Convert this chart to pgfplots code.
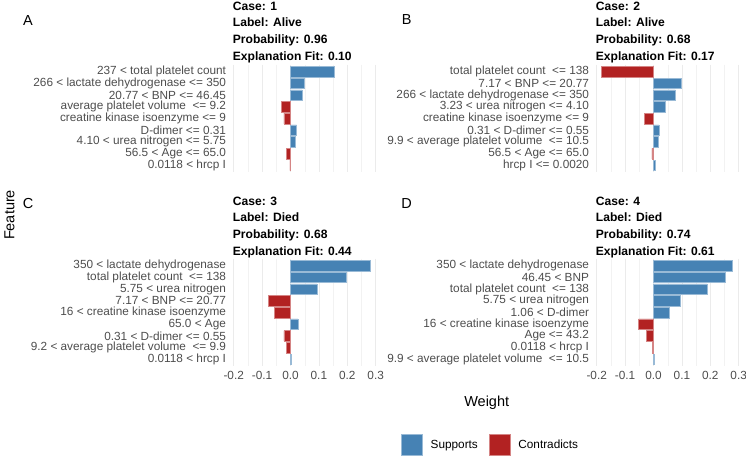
\documentclass[border=0pt]{standalone}
\usepackage{fontspec}
\setmainfont{Liberation Sans}
\usepackage{pgfplots}
\pgfplotsset{compat=1.18}
\definecolor{supp}{RGB}{70,130,180}
\definecolor{contra}{RGB}{178,34,34}
\definecolor{gridc}{RGB}{235,235,235}
\definecolor{gridm}{RGB}{242,242,242}
\definecolor{tickc}{RGB}{77,77,77}
\newcommand\tickfont{\fontsize{11.8bp}{13bp}\selectfont}
\newcommand\titlefont{\fontsize{12.1bp}{14bp}\selectfont\bfseries}
\newcommand\labfont{\fontsize{14.5bp}{16bp}\selectfont}
\pgfplotsset{
  limeaxis/.style={
    scale only axis, width=145.4bp, height=107.6bp,
    xbar, bar width=0.9, bar shift=0pt,
    xmin=-0.207, xmax=0.305,
    ymin=0.4, ymax=9.6, y dir=reverse,
    ytick={1,...,9},
    xtick={-0.2,-0.1,0,0.1,0.2,0.3},
    minor xtick={-0.15,-0.05,0.05,0.15,0.25},
    xmajorgrids, xminorgrids, ymajorgrids=false,
    major grid style={color=gridc, line width=0.6bp},
    minor grid style={color=gridm, line width=0.35bp},
    axis line style={draw=none},
    major tick length=0pt, minor tick length=0pt,
    tick style={draw=none},
    yticklabel style={font=\tickfont, text=tickc, inner sep=0pt, xshift=-5.5bp},
    xticklabel style={font=\tickfont, text=tickc, inner sep=0pt, yshift=-5bp},
    clip=false,
  },
  suppbar/.style={fill=supp, draw=supp!55!white, line width=0.5bp},
  contrabar/.style={fill=contra, draw=contra!55!white, line width=0.5bp},
}
\begin{document}
\begin{tikzpicture}[x=1bp,y=1bp]
\useasboundingbox (0,0) rectangle (746,456);
% Panel A
\begin{axis}[limeaxis, at={(231.7bp,283.7bp)}, anchor=south west,
  xticklabels=\empty,
  yticklabels={{237 < total platelet count\ },{266 < lactate dehydrogenase <= 350},{20.77 < BNP <= 46.45},{average platelet volume\ \ <= 9.2},{creatine kinase isoenzyme <= 9},{D-dimer <= 0.31},{4.10 < urea nitrogen <= 5.75},{56.5 < Age <= 65.0},{0.0118 < hrcp I}}]
\addplot[suppbar] coordinates {(0.154,1) (0.050,2) (0.041,3) (0.022,6) (0.016,7)};
\addplot[contrabar] coordinates {(-0.033,4) (-0.023,5) (-0.015,8) (-0.002,9)};
\end{axis}
% Panel B
\begin{axis}[limeaxis, at={(594.7bp,283.7bp)}, anchor=south west,
  xticklabels=\empty,
  yticklabels={{total platelet count\ \ <= 138},{7.17 < BNP <= 20.77},{266 < lactate dehydrogenase <= 350},{3.23 < urea nitrogen <= 4.10},{creatine kinase isoenzyme <= 9},{0.31 < D-dimer <= 0.55},{9.9 < average platelet volume\ \ <= 10.5},{56.5 < Age <= 65.0},{hrcp I <= 0.0020}}]
\addplot[suppbar] coordinates {(0.098,2) (0.077,3) (0.043,4) (0.019,6) (0.017,7) (0.005,9)};
\addplot[contrabar] coordinates {(-0.183,1) (-0.033,5) (-0.006,8)};
\end{axis}
% Panel C
\begin{axis}[limeaxis, at={(231.7bp,89.7bp)}, anchor=south west,
  xticklabels={-0.2,-0.1,0.0,0.1,0.2,0.3},
  yticklabels={{350 < lactate dehydrogenase},{total platelet count\ \ <= 138},{5.75 < urea nitrogen},{7.17 < BNP <= 20.77},{16 < creatine kinase isoenzyme},{65.0 < Age},{0.31 < D-dimer <= 0.55},{9.2 < average platelet volume\ \ <= 9.9},{0.0118 < hrcp I}}]
\addplot[suppbar] coordinates {(0.281,1) (0.195,2) (0.093,3) (0.026,6) (0.004,9)};
\addplot[contrabar] coordinates {(-0.079,4) (-0.057,5) (-0.023,7) (-0.015,8)};
\end{axis}
% Panel D
\begin{axis}[limeaxis, at={(594.7bp,89.7bp)}, anchor=south west,
  xticklabels={-0.2,-0.1,0.0,0.1,0.2,0.3},
  yticklabels={{350 < lactate dehydrogenase},{46.45 < BNP},{total platelet count\ \ <= 138},{5.75 < urea nitrogen},{1.06 < D-dimer},{16 < creatine kinase isoenzyme},{Age <= 43.2},{0.0118 < hrcp I},{9.9 < average platelet volume\ \ <= 10.5}},
  legend columns=2,
  legend image code/.code={\fill[#1] (0bp,-10.5bp) rectangle (21bp,10.5bp);},
  legend style={at={(rel axis cs:-0.716,-0.731)}, anchor=center, draw=none, fill=none,
    font=\tickfont, inner sep=0pt,
    /tikz/every odd column/.append style={column sep=6bp},
    /tikz/every even column/.append style={column sep=9bp}},
  ]
\addplot[suppbar] coordinates {(0.277,1) (0.253,2) (0.189,3) (0.095,4) (0.056,5) (0.003,9)};
\addplot[contrabar] coordinates {(-0.052,6) (-0.024,7) (-0.004,8)};
\legend{Supports,Contradicts}
\end{axis}
% Titles
\foreach \xx/\ya/\c/\l/\p/\f in {232.7/445.7/1/Alive/0.96/0.10, 595.7/445.7/2/Alive/0.68/0.17, 232.7/250.7/3/Died/0.68/0.44, 595.7/250.7/4/Died/0.74/0.61}{
  \node[anchor=base west, inner sep=0pt, font=\titlefont] at (\xx,\ya) {Case: \c};
  \node[anchor=base west, inner sep=0pt, font=\titlefont] at (\xx,\ya-16.65) {Label: \l};
  \node[anchor=base west, inner sep=0pt, font=\titlefont] at (\xx,\ya-33.3) {Probability: \p};
  \node[anchor=base west, inner sep=0pt, font=\titlefont] at (\xx,\ya-49.95) {Explanation Fit: \f};
}
% Panel letters
\node[font=\labfont, inner sep=0pt] at (28,435.7) {A};
\node[font=\labfont, inner sep=0pt] at (406.7,436.5) {B};
\node[font=\labfont, inner sep=0pt] at (28,252.7) {C};
\node[font=\labfont, inner sep=0pt] at (406.7,252) {D};
% Axis titles
\node[font=\labfont, inner sep=0pt, rotate=90] at (9.5,241) {Feature};
\node[font=\labfont, inner sep=0pt] at (486.7,53) {Weight};
\end{tikzpicture}
\end{document}
